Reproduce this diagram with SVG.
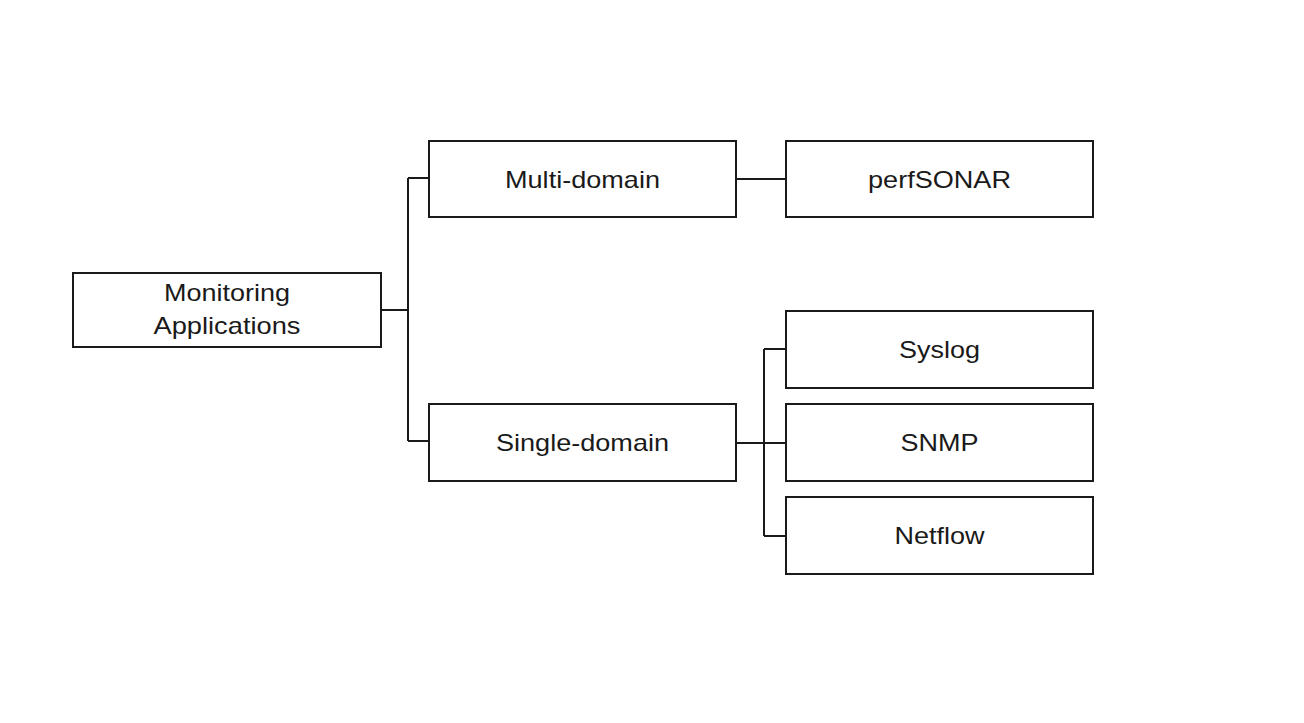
<svg xmlns="http://www.w3.org/2000/svg" width="1304" height="723" viewBox="0 0 1304 723">
<style>
.box{fill:#fff;stroke:#1a1a1a;stroke-width:2}
.lbl{font-family:"Liberation Sans",Arial,sans-serif;font-size:24px;fill:#1a1a1a;text-anchor:middle}
.con{fill:none;stroke:#1a1a1a;stroke-width:2}
</style>
<rect width="1304" height="723" fill="#fff"/>
<g id="connectors">
<path class="con" d="M381 310H408M408 178V441M408 178H429M408 441H429"/>
<path class="con" d="M736 179H786"/>
<path class="con" d="M736 443H786M764 349V536M764 349H786M764 536H786"/>
</g>
<g id="monitoring">
<rect class="box" x="73" y="273" width="308" height="74"/>
<text class="lbl" x="227" y="301" textLength="126" lengthAdjust="spacingAndGlyphs">Monitoring</text>
<text class="lbl" x="227" y="334" textLength="147" lengthAdjust="spacingAndGlyphs">Applications</text>
</g>
<g id="multi-domain">
<rect class="box" x="429" y="141" width="307" height="76"/>
<text class="lbl" x="582.5" y="188" textLength="155" lengthAdjust="spacingAndGlyphs">Multi-domain</text>
</g>
<g id="single-domain">
<rect class="box" x="429" y="404" width="307" height="77"/>
<text class="lbl" x="582.5" y="451" textLength="173" lengthAdjust="spacingAndGlyphs">Single-domain</text>
</g>
<g id="perfsonar">
<rect class="box" x="786" y="141" width="307" height="76"/>
<text class="lbl" x="939.5" y="188" textLength="143" lengthAdjust="spacingAndGlyphs">perfSONAR</text>
</g>
<g id="syslog">
<rect class="box" x="786" y="311" width="307" height="77"/>
<text class="lbl" x="939.5" y="358" textLength="81" lengthAdjust="spacingAndGlyphs">Syslog</text>
</g>
<g id="snmp">
<rect class="box" x="786" y="404" width="307" height="77"/>
<text class="lbl" x="939.5" y="451" textLength="78" lengthAdjust="spacingAndGlyphs">SNMP</text>
</g>
<g id="netflow">
<rect class="box" x="786" y="497" width="307" height="77"/>
<text class="lbl" x="939.5" y="544" textLength="90" lengthAdjust="spacingAndGlyphs">Netflow</text>
</g>
</svg>
